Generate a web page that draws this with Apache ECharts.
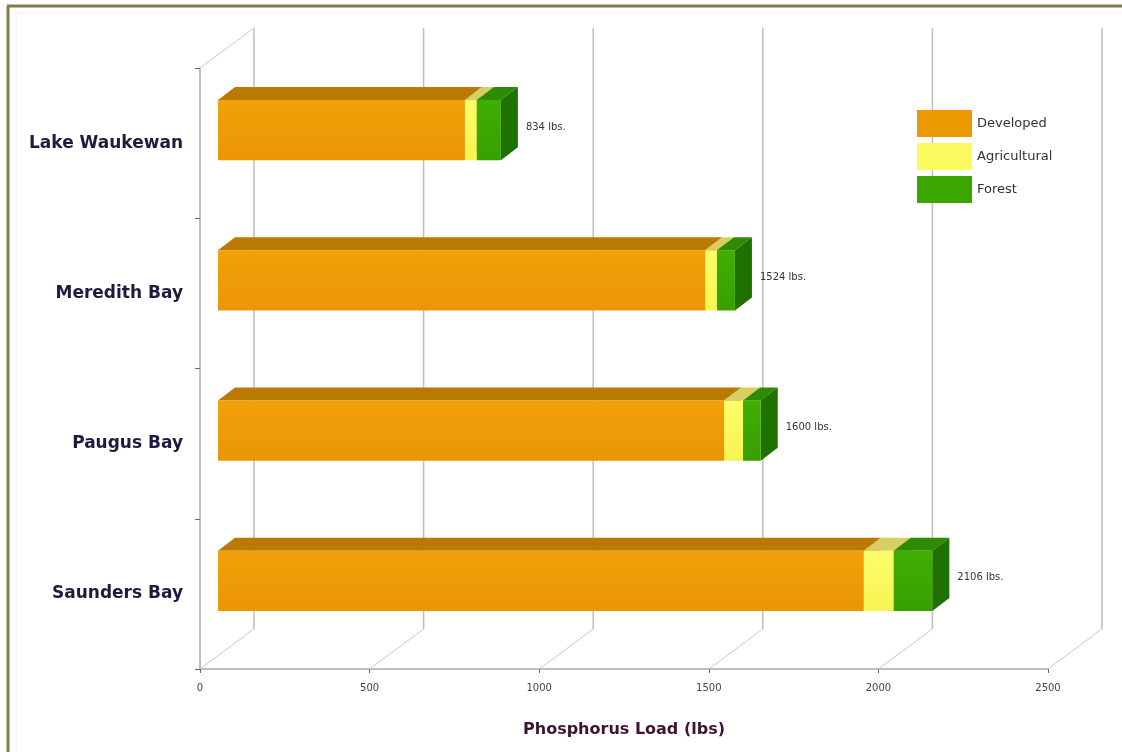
<!DOCTYPE html>
<html>
<head>
<meta charset="utf-8">
<script src="https://cdn.jsdelivr.net/npm/echarts@6/dist/echarts.min.js"></script>
<style>html,body{margin:0;padding:0;background:#fff;}#c{width:1122px;height:752px;}</style>
</head>
<body>
<div id="c"></div>
<script>
const categories = ['Lake Waukewan', 'Meredith Bay', 'Paugus Bay', 'Saunders Bay'];
const developed = [728, 1436, 1492, 1904];
const agricultural = [35, 35, 56, 88];
const forest = [71, 53, 52, 114];
const xTicks = [0, 500, 1000, 1500, 2000, 2500];
const seriesNames = ['Developed', 'Agricultural', 'Forest'];

const FONT = 'DejaVu Sans';
const WALL_DX = 54, WALL_DY = 40;   // depth of the 3D box
const BAR_OFF_X = 18, BAR_OFF_Y = 13; // bar front plane offset
const BAR_DX = 17, BAR_DY = 13;     // bar depth

const palettes = [
  { legend: '#EC9A04', front: ['#F1A10A', '#EA9602'], top: '#BA7A02', side: '#C27F00' },
  { legend: '#FAF95E', front: ['#FDFD6A', '#F6F450'], top: '#D8CF62', side: '#E2DE3E' },
  { legend: '#3BA602', front: ['#40AE04', '#36A000'], top: '#2F8A06', side: '#1F7200' }
];

const segs = [developed, agricultural, forest];
function segData(k) {
  return categories.map((c, i) => {
    let start = 0;
    for (let j = 0; j < k; j++) start += segs[j][i];
    return [i, start, start + segs[k][i]];
  });
}
const totals = categories.map((c, i) => developed[i] + agricultural[i] + forest[i]);

function boxRenderer(k) {
  const p = palettes[k];
  return function (params, api) {
    const cat = api.value(0);
    const s = api.value(1), e = api.value(2);
    const band = api.size([0, 1])[1];
    const h = band * 0.4;
    const yc = api.coord([0, cat])[1] - BAR_OFF_Y;
    const x0 = api.coord([s, cat])[0] + BAR_OFF_X;
    const x1 = api.coord([e, cat])[0] + BAR_OFF_X;
    const yt = yc - h / 2, yb = yc + h / 2;
    const children = [
      { type: 'polygon', shape: { points: [[x0, yt], [x0 + BAR_DX, yt - BAR_DY], [x1 + BAR_DX, yt - BAR_DY], [x1, yt]] }, style: { fill: p.top } },
      { type: 'polygon', shape: { points: [[x1, yt], [x1 + BAR_DX, yt - BAR_DY], [x1 + BAR_DX, yb - BAR_DY], [x1, yb]] }, style: { fill: p.side } },
      { type: 'rect', shape: { x: x0, y: yt, width: x1 - x0, height: h },
        style: { fill: new echarts.graphic.LinearGradient(0, 0, 0, 1, [{ offset: 0, color: p.front[0] }, { offset: 1, color: p.front[1] }]) } }
    ];
    if (k === 2) {
      children.push({ type: 'text', x: x1 + BAR_DX + 8, y: yc - 3,
        style: { text: totals[cat] + ' lbs.', fill: '#333', font: '10px "' + FONT + '"', verticalAlign: 'middle', align: 'left' } });
    }
    return { type: 'group', children: children };
  };
}

function frameRenderer(params, api) {
  const v = api.value(0);
  const cs = params.coordSys;
  const top = cs.y, bottom = cs.y + cs.height;
  const x = api.coord([v, 0])[0];
  const lineBack = { stroke: '#bdbdbd', lineWidth: 1.5 };
  const lineDiag = { stroke: '#c9c9c9', lineWidth: 1 };
  const children = [
    { type: 'line', shape: { x1: x + WALL_DX, y1: top - WALL_DY, x2: x + WALL_DX, y2: bottom - WALL_DY }, style: lineBack },
    { type: 'line', shape: { x1: x, y1: bottom, x2: x + WALL_DX, y2: bottom - WALL_DY }, style: lineDiag }
  ];
  if (v === 0) {
    children.push({ type: 'line', shape: { x1: x, y1: top, x2: x + WALL_DX, y2: top - WALL_DY }, style: lineDiag });
  }
  return { type: 'group', children: children };
}

const chart = echarts.init(document.getElementById('c'), null, { renderer: 'canvas' });
const series = [{
  type: 'custom', name: '_frame', z: 1, silent: true,
  renderItem: frameRenderer,
  data: xTicks.map(v => [v]),
  encode: { x: 0 }
}];
seriesNames.forEach((n, k) => {
  series.push({
    type: 'custom', name: n, z: 2 + k,
    renderItem: boxRenderer(k),
    itemStyle: { color: palettes[k].legend },
    data: segData(k),
    encode: { x: [1, 2], y: 0 }
  });
});

chart.setOption({
  backgroundColor: '#ffffff',
  animation: false,
  graphic: [
    { type: 'line', shape: { x1: 7, y1: 6, x2: 1122, y2: 6 }, style: { stroke: '#857c48', lineWidth: 3 } },
    { type: 'line', shape: { x1: 8, y1: 6, x2: 8, y2: 752 }, style: { stroke: '#857c48', lineWidth: 3 } },
    { type: 'line', shape: { x1: 15, y1: 13, x2: 1122, y2: 13 }, style: { stroke: '#f0f0ea', lineWidth: 1 } },
    { type: 'line', shape: { x1: 16, y1: 13, x2: 16, y2: 752 }, style: { stroke: '#f0f0ea', lineWidth: 1 } }
  ],
  legend: {
    data: seriesNames,
    orient: 'vertical',
    left: 912, top: 105,
    itemWidth: 55, itemHeight: 27, itemGap: 6,
    icon: 'rect',
    textStyle: { fontFamily: FONT, fontSize: 13, color: '#333' },
    selectedMode: false
  },
  grid: { left: 200, right: 74, top: 68, bottom: 83, containLabel: false },
  xAxis: {
    type: 'value', min: 0, max: 2500, interval: 500,
    name: 'Phosphorus Load (lbs)', nameLocation: 'middle', nameGap: 53,
    nameTextStyle: { fontFamily: FONT, fontWeight: 'bold', fontSize: 16, color: '#3d1434' },
    axisLine: { show: true, lineStyle: { color: '#aaaaaa', width: 1.5 } },
    axisTick: { show: true, length: 4, lineStyle: { color: '#666' } },
    axisLabel: { fontFamily: FONT, fontSize: 10, color: '#444', margin: 14, formatter: v => String(v) },
    splitLine: { show: false }
  },
  yAxis: {
    type: 'category', data: categories, inverse: true,
    axisLine: { show: true, lineStyle: { color: '#aaaaaa', width: 1.5 } },
    axisTick: { show: true, length: 5, lineStyle: { color: '#666' } },
    axisLabel: { fontFamily: FONT, fontWeight: 'bold', fontSize: 17, color: '#1c1c40', margin: 17 },
    splitLine: { show: false }
  },
  series: series
});
</script>
</body>
</html>
